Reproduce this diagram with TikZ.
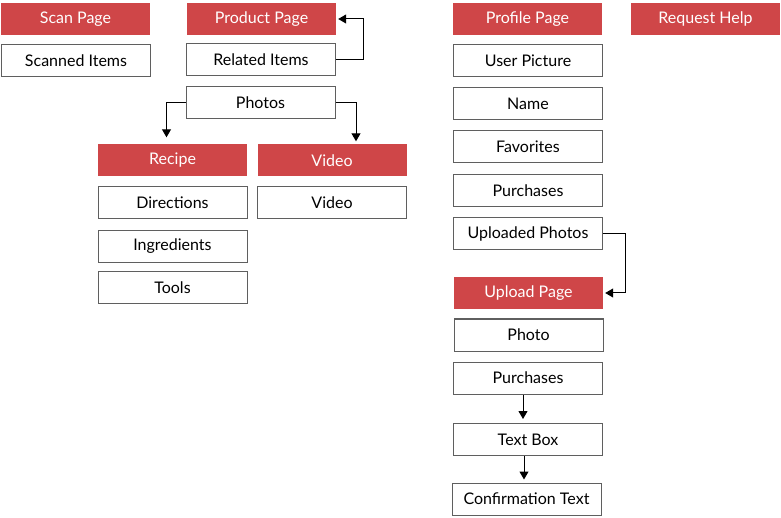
\documentclass[tikz,border=0pt]{standalone}
\usepackage{fontspec}
\setmainfont{Lato}
\usetikzlibrary{arrows.meta,positioning}
\definecolor{pagered}{RGB}{207,70,72}
\definecolor{boxgray}{RGB}{95,95,95}
\tikzset{
  page/.style={fill=pagered, text=white, minimum width=149pt, minimum height=32pt,
    inner sep=0pt, font=\fontsize{16}{18}\selectfont},
  item/.style={draw=boxgray, line width=1pt, fill=white, minimum width=149pt,
    minimum height=32pt, inner sep=0pt, font=\fontsize{16}{18}\selectfont},
  link/.style={black, line width=1pt, -{Triangle[length=8pt,width=9pt]}},
}
\begin{document}
\begin{tikzpicture}[x=1pt,y=-1pt]
\useasboundingbox (0,0) rectangle (781,518);
% headers
\node[page] (scan)    at (75.5,19)  {Scan Page};
\node[page] (product) at (261.5,19) {Product Page};
\node[page] (profile) at (527.5,19) {Profile Page};
\node[page] (help)    at (705.5,19) {Request Help};
% scan page
\node[item] (scanned) at (76,60.5) {Scanned Items};
% product page
\node[item] (related) at (261,59.5) {Related Items};
\node[item] (photos)  at (260.5,103) {Photos};
\node[page] (recipe)  at (172.5,160.5) {Recipe};
\node[page] (video)   at (332,160.5) {Video};
\node[item] (videoitem) at (332,203) {Video};
\foreach \name/\y/\txt in {directions/203/Directions, ingredients/246.5/Ingredients, tools/288/Tools}
  \node[item] (\name) at (172.5,\y) {\txt};
% profile page
\foreach \name/\y/\txt in {picture/61/User Picture, username/104/Name, favorites/147/Favorites,
    purchases/191/Purchases, uploaded/233.5/Uploaded Photos}
  \node[item] (\name) at (528,\y) {\txt};
% upload page
\node[page] (upload) at (528.5,293) {Upload Page};
\node[item] (photo)  at (528.5,335) {Photo};
\node[item] (uppurchases) at (528,378) {Purchases};
\node[item] (textbox) at (528,439.5) {Text Box};
\node[item] (confirm) at (526.5,499) {Confirmation Text};
% links
\draw[link] (related.east) -- ++(27,0) |- ([xshift=2pt]product.east);
\draw[link] (photos.west) -| ([xshift=-6pt,yshift=7pt]recipe.north);
\draw[link] (photos.east) -| ([xshift=24pt,yshift=3pt]video.north);
\draw[link] (uploaded.east) -- ++(22,0) |- ([xshift=2pt]upload.east);
\draw[link] ([xshift=-5pt]uppurchases.south) -- ([xshift=-5pt,yshift=4pt]textbox.north);
\draw[link] ([xshift=-4pt]textbox.south) -- ([xshift=-2.5pt,yshift=3pt]confirm.north);
\end{tikzpicture}
\end{document}
